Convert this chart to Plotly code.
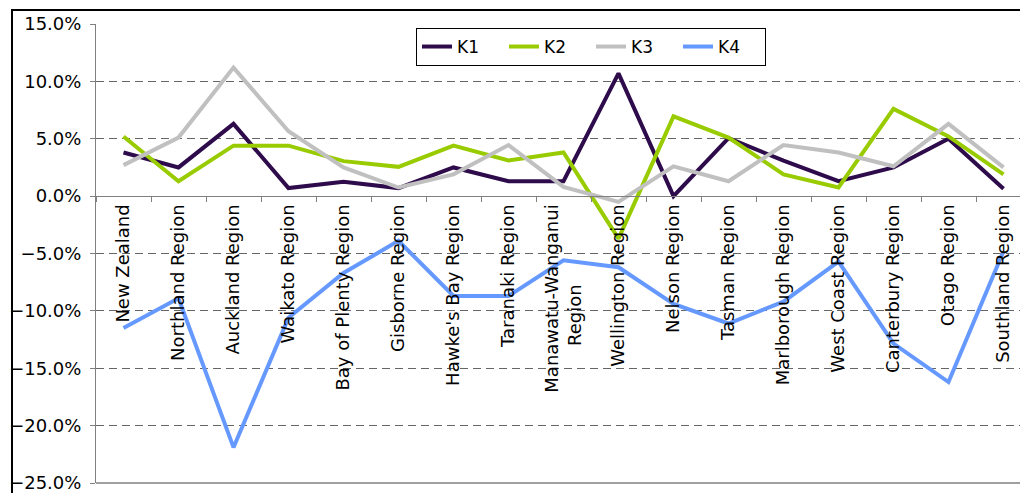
import plotly.graph_objects as go

NB = "\u00a0"
categories = ["New Zealand", "Northland Region", "Auckland Region", "Waikato Region",
              "Bay of Plenty Region", "Gisborne Region", "Hawke's Bay Region",
              "Taranaki Region", "Manawatu-Wanganui<br>Region" + NB * 14, "Wellington Region",
              "Nelson Region", "Tasman Region", "Marlborough Region", "West Coast Region",
              "Canterbury Region", "Otago Region", "Southland Region"]

k1 = [3.8, 2.5, 6.3, 0.7, 1.25, 0.7, 2.5, 1.3, 1.3, 10.7, 0.0, 5.05, 3.1, 1.3, 2.5, 5.0, 0.65]
k2 = [5.2, 1.3, 4.4, 4.4, 3.05, 2.55, 4.4, 3.1, 3.8, -3.7, 6.95, 5.1, 1.9, 0.75, 7.6, 5.2, 1.9]
k3 = [2.7, 5.1, 11.2, 5.65, 2.5, 0.75, 1.9, 4.45, 0.8, -0.5, 2.6, 1.3, 4.45, 3.8, 2.6, 6.3, 2.5]
k4 = [-11.5, -8.9, -21.9, -10.6, -6.7, -3.9, -8.7, -8.7, -5.6, -6.2, -9.4, -11.1, -9.2, -5.7, -12.85, -16.2, -4.8]

series = [("K1", k1, "#2E0B4B"), ("K2", k2, "#99CC00"), ("K3", k3, "#C0C0C0"), ("K4", k4, "#6699FF")]
y_ticks = [-0.25, -0.20, -0.15, -0.10, -0.05, 0.0, 0.05, 0.10, 0.15]

FONT = "DejaVu Sans"
fig = go.Figure()
for name, vals, col in series:
    fig.add_trace(go.Scatter(x=categories, y=[v / 100 for v in vals], name=name, mode="lines",
                             line=dict(color=col, width=4)))

W, H = 1020, 493
L, R, T, B = 96, 0, 24, 8
pw, ph = W - L - R, H - T - B
y_lo, y_hi = -0.25, 0.15

def px_x(x):
    return (x - L) / pw

def px_y(y):
    return (H - B - y) / ph

zero_pos = (0 - y_lo) / (y_hi - y_lo)

fig.update_layout(
    width=W, height=H,
    margin=dict(l=L, r=R, t=T, b=B),
    paper_bgcolor="white", plot_bgcolor="white",
    font=dict(family=FONT, size=18, color="black"),
    showlegend=True,
    legend=dict(orientation="h", x=px_x(416), y=px_y(28), xanchor="left", yanchor="top",
                bordercolor="black", borderwidth=1, bgcolor="white",
                font=dict(size=17), entrywidth=42, entrywidthmode="pixels",
                tracegroupgap=0, itemwidth=30),
    xaxis=dict(type="category", range=[-0.5, -0.5 + pw / 55.0],
               anchor="free", position=zero_pos,
               showline=True, linecolor="#808080", linewidth=1,
               ticks="outside", ticklen=5, tickcolor="#808080", tickson="boundaries",
               tickangle=-90, showgrid=False, zeroline=False,
               tickfont=dict(family=FONT, size=18)),
    yaxis=dict(range=[y_lo - 1e-6, y_hi + 1e-6], tickmode="array", tickvals=y_ticks,
               tickformat=".1%",
               showline=True, linecolor="#808080", linewidth=1,
               ticks="outside", ticklen=5, tickcolor="#808080", ticklabelstandoff=5,
               ticklabeloverflow="allow",
               showgrid=True, gridcolor="#666666", gridwidth=1, griddash="8px,5px",
               zeroline=True, zerolinecolor="#808080", zerolinewidth=1,
               tickfont=dict(family=FONT, size=18)),
    shapes=[
        dict(type="line", xref="paper", yref="paper", x0=0, x1=1.2, y0=0, y1=0,
             line=dict(color="#808080", width=1.5)),
        dict(type="line", xref="paper", yref="paper", x0=px_x(12), x1=px_x(12),
             y0=px_y(9), y1=-0.2, line=dict(color="black", width=2)),
        dict(type="line", xref="paper", yref="paper", x0=px_x(11), x1=1.2,
             y0=px_y(10), y1=px_y(10), line=dict(color="black", width=2)),
    ],
)

fig.write_html("out.html")
